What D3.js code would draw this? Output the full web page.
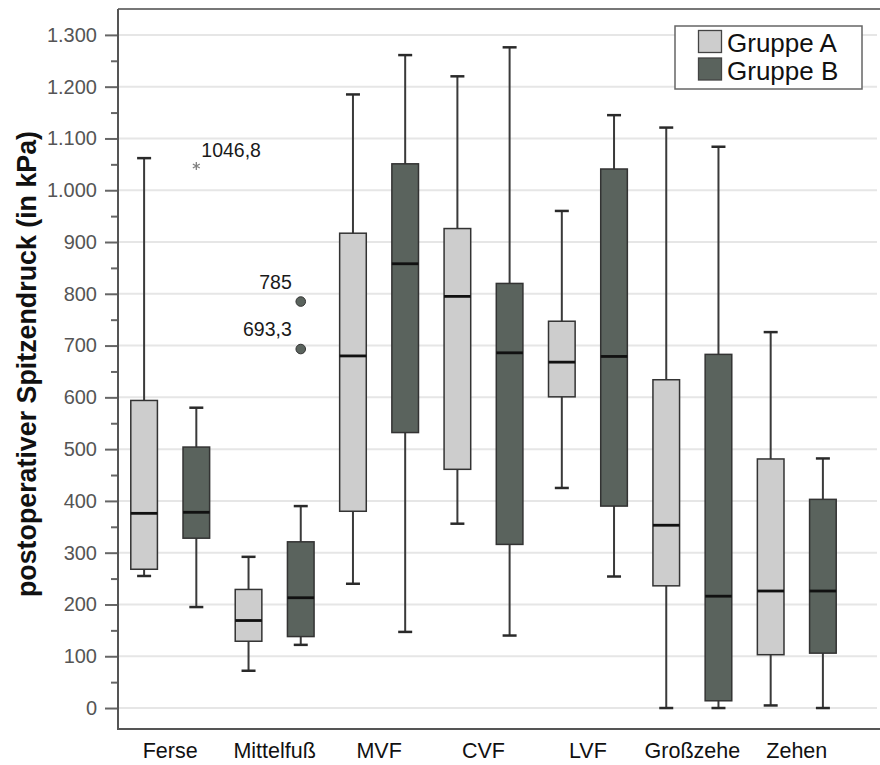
<!DOCTYPE html>
<html>
<head>
<meta charset="utf-8">
<script src="https://cdn.jsdelivr.net/npm/d3@7"></script>
<style>
  html, body { margin: 0; padding: 0; background: #fff; }
  svg { display: block; font-family: "Liberation Sans", Arial, sans-serif; }
</style>
</head>
<body>
<svg id="chart" width="880" height="765"></svg>
<script>
// Regions of the foot
const categories = ["Ferse", "Mittelfuß", "MVF", "CVF", "LVF", "Großzehe", "Zehen"];
const groups = ["Gruppe A", "Gruppe B"];

// Five-number summaries per region: [lower whisker, Q1, median, Q3, upper whisker]
const groupA = [
  [255, 268, 376, 594, 1062],
  [72, 129, 169, 229, 292],
  [240, 380, 680, 917, 1185],
  [356, 461, 795, 926, 1220],
  [425, 601, 668, 747, 960],
  [0, 236, 353, 634, 1121],
  [5, 103, 226, 481, 726]
];
const groupB = [
  [195, 328, 378, 504, 580],
  [122, 138, 213, 321, 390],
  [147, 532, 858, 1051, 1261],
  [140, 316, 686, 820, 1276],
  [254, 390, 679, 1041, 1145],
  [0, 14, 216, 683, 1084],
  [0, 106, 226, 403, 482]
];

// Single observations outside the whiskers
const outlierCategory = ["Ferse", "Mittelfuß", "Mittelfuß"];
const outlierGroup = ["Gruppe B", "Gruppe B", "Gruppe B"];
const outlierValue = [1046.8, 785, 693.3];
const outlierLabel = ["1046,8", "785", "693,3"];
const outlierKind = ["extreme", "outlier", "outlier"];

// Y axis ticks
const yTicks = [0, 100, 200, 300, 400, 500, 600, 700, 800, 900, 1000, 1100, 1200, 1300];
const yTickLabels = ["0", "100", "200", "300", "400", "500", "600", "700", "800", "900", "1.000", "1.100", "1.200", "1.300"];
const yMinorTicks = [50, 150, 250, 350, 450, 550, 650, 750, 850, 950, 1050, 1150, 1250];

const fills = { "Gruppe A": "#cdcdcd", "Gruppe B": "#5a635d" };

const svg = d3.select("#chart");
const plotLeft = 118, plotRight = 880, plotTop = 9, plotBottom = 729;

const y = d3.scaleLinear().domain([-40.5, 1350]).range([plotBottom, plotTop]);
const x = d3.scaleBand().domain(categories).range([plotLeft, 849]).padding(0);
const xSub = d3.scaleBand().domain(groups).range([0, x.bandwidth()]).padding(0);
const boxW = xSub.bandwidth() * 0.51;
const capW = 14;

// Gridlines
svg.append("g").selectAll("line").data(yTicks).join("line")
  .attr("x1", plotLeft).attr("x2", plotRight - 3)
  .attr("y1", d => y(d)).attr("y2", d => y(d))
  .attr("stroke", "#e6e6e6").attr("stroke-width", 2);

// Y axis with major and minor ticks
const yAxis = d3.axisLeft(y).tickValues(yTicks).tickSize(13).tickPadding(8)
  .tickFormat((d, i) => yTickLabels[i]);
const gy = svg.append("g").attr("transform", `translate(${plotLeft},0)`).call(yAxis);
gy.select(".domain").remove();
gy.selectAll(".tick line").attr("stroke", "#666").attr("stroke-width", 2);
gy.selectAll(".tick text").attr("fill", "#555").style("font-size", "20px");
const yMinor = d3.axisLeft(y).tickValues(yMinorTicks).tickSize(7).tickFormat("");
const gym = svg.append("g").attr("transform", `translate(${plotLeft},0)`).call(yMinor);
gym.select(".domain").remove();
gym.selectAll(".tick line").attr("stroke", "#666").attr("stroke-width", 2);

// X axis labels
const xAxis = d3.axisBottom(x).tickSize(0).tickPadding(14);
const gx = svg.append("g").attr("transform", `translate(0,${plotBottom})`).call(xAxis);
gx.select(".domain").remove();
gx.selectAll(".tick text").attr("fill", "#111").style("font-size", "21.5px");

// Frame lines
svg.append("line").attr("x1", plotLeft).attr("x2", plotRight).attr("y1", plotTop).attr("y2", plotTop)
  .attr("stroke", "#777").attr("stroke-width", 2);
svg.append("line").attr("x1", plotLeft).attr("x2", plotLeft).attr("y1", plotTop).attr("y2", plotBottom)
  .attr("stroke", "#555").attr("stroke-width", 2);
svg.append("line").attr("x1", plotLeft - 1).attr("x2", plotRight).attr("y1", plotBottom).attr("y2", plotBottom)
  .attr("stroke", "#555").attr("stroke-width", 2);

// Box records
const boxes = [];
categories.forEach((c, i) => {
  boxes.push({ cat: c, grp: "Gruppe A", s: groupA[i] });
  boxes.push({ cat: c, grp: "Gruppe B", s: groupB[i] });
});
const cx = d => x(d.cat) + xSub(d.grp) + xSub.bandwidth() / 2;

const gb = svg.append("g").selectAll("g").data(boxes).join("g");
// whisker stems
gb.append("line")
  .attr("x1", cx).attr("x2", cx)
  .attr("y1", d => y(d.s[4])).attr("y2", d => y(d.s[0]))
  .attr("stroke", "#3a3a3a").attr("stroke-width", 2);
// caps
[0, 4].forEach(k => {
  gb.append("line")
    .attr("x1", d => cx(d) - capW / 2).attr("x2", d => cx(d) + capW / 2)
    .attr("y1", d => y(d.s[k])).attr("y2", d => y(d.s[k]))
    .attr("stroke", "#2a2a2a").attr("stroke-width", 2.5);
});
// boxes
gb.append("rect")
  .attr("x", d => cx(d) - boxW / 2).attr("width", boxW)
  .attr("y", d => y(d.s[3])).attr("height", d => y(d.s[1]) - y(d.s[3]))
  .attr("fill", d => fills[d.grp]).attr("stroke", "#333").attr("stroke-width", 1.5);
// medians
gb.append("line")
  .attr("x1", d => cx(d) - boxW / 2).attr("x2", d => cx(d) + boxW / 2)
  .attr("y1", d => y(d.s[2])).attr("y2", d => y(d.s[2]))
  .attr("stroke", "#111").attr("stroke-width", 2.8);

// Outliers
const outliers = outlierValue.map((v, i) => ({
  cat: outlierCategory[i], grp: outlierGroup[i], v, label: outlierLabel[i], kind: outlierKind[i]
}));
const go = svg.append("g");
outliers.forEach(o => {
  const px = cx(o), py = y(o.v);
  if (o.kind === "extreme") {
    go.append("path")
      .attr("transform", `translate(${px},${py})`)
      .attr("d", d3.symbol(d3.symbolAsterisk, 45)())
      .attr("fill", "none").attr("stroke", "#808080").attr("stroke-width", 1.3);
    go.append("text").attr("x", px + 5).attr("y", py - 9)
      .attr("fill", "#1a1a1a").style("font-size", "19.5px").text(o.label);
  } else {
    go.append("circle").attr("cx", px).attr("cy", py).attr("r", 4.8)
      .attr("fill", "#5a635d").attr("stroke", "#333").attr("stroke-width", 1);
    go.append("text").attr("x", px - 9).attr("y", py - 13).attr("text-anchor", "end")
      .attr("fill", "#1a1a1a").style("font-size", "19.5px").text(o.label);
  }
});

// Y axis title
svg.append("text")
  .attr("transform", `translate(36,364) rotate(-90)`)
  .attr("text-anchor", "middle")
  .attr("fill", "#111").style("font-size", "26.8px").style("font-weight", "bold")
  .text("postoperativer Spitzendruck (in kPa)");

// Legend
const lg = svg.append("g");
lg.append("rect").attr("x", 675).attr("y", 26).attr("width", 187).attr("height", 63)
  .attr("fill", "#fff").attr("stroke", "#666").attr("stroke-width", 1.5);
groups.forEach((g, i) => {
  lg.append("rect").attr("x", 698.5).attr("y", 30.5 + i * 27.5).attr("width", 23).attr("height", 22)
    .attr("fill", fills[g]).attr("stroke", "#444").attr("stroke-width", 1.3);
  lg.append("text").attr("x", 727).attr("y", 51.5 + i * 28)
    .attr("fill", "#111").style("font-size", "26px").text(g);
});
</script>
</body>
</html>
